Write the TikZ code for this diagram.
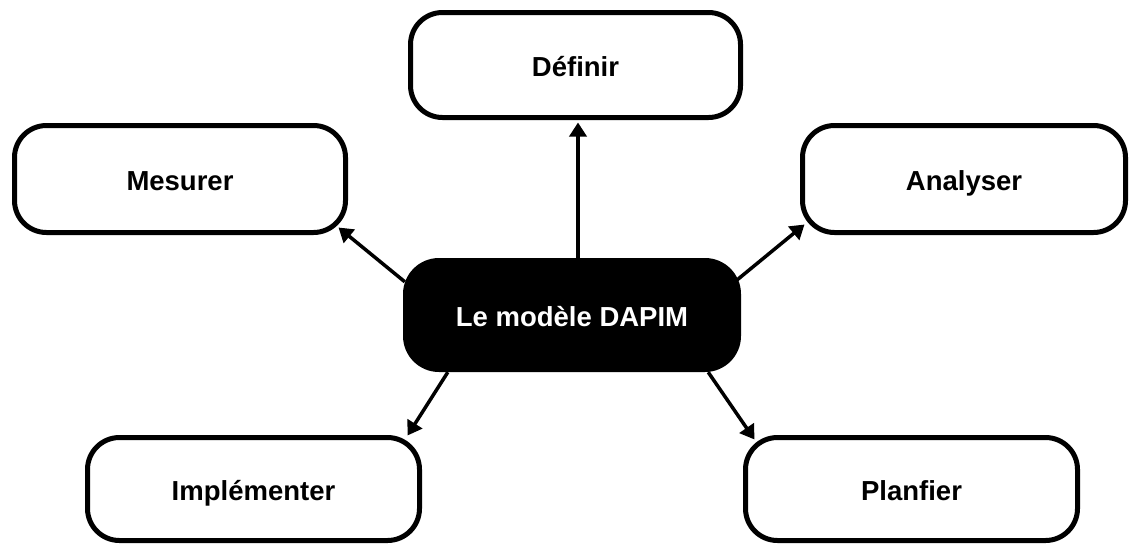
\documentclass[tikz,border=0pt]{standalone}
\usepackage{fontspec}
\setmainfont{Liberation Sans}
\usetikzlibrary{arrows.meta}

\begin{document}
\begin{tikzpicture}[x=1pt, y=-1pt,
  label font/.style={font=\fontsize{27.5}{32}\selectfont\bfseries,
    text height=22pt, text depth=0pt},
  stage/.style={draw=black, line width=5pt, fill=white, rounded corners=32pt,
    inner sep=0pt, label font},
  hub/.style={fill=black, text=white, rounded corners=36pt, inner sep=0pt,
    minimum width=338pt, minimum height=114pt, label font},
  link/.style={line width=3.5pt, -{Triangle[length=14pt,width=17pt]}}]

\useasboundingbox (0,0) rectangle (1129,544);

% central hub
\node[hub] (c) at (572,315) {Le modèle DAPIM};

% the five stages
\node[stage, minimum width=330pt, minimum height=105pt] (def) at (575.5,65) {Définir};
\node[stage, minimum width=331pt, minimum height=107pt] (mes) at (180,179) {Mesurer};
\node[stage, minimum width=323pt, minimum height=107pt] (ana) at (964,179) {Analyser};
\node[stage, minimum width=332pt, minimum height=103pt] (imp) at (253.5,489) {Implémenter};
\node[stage, minimum width=332pt, minimum height=103pt] (pla) at (911.5,489) {Planfier};

% connectors from the hub
\draw[link] ([xshift=6pt]c.north) -- ([shift={(2.5,2.5)}]def.south);
\draw[link] ([shift={(2,24)}]c.north west) -- ([shift={(-9.5,-7.5)}]mes.south east);
\draw[link] ([shift={(-4,22)}]c.north east) -- ([shift={(4.5,-10.5)}]ana.south west);
\draw[link] ([shift={(45,0)}]c.south west) -- ([shift={(-14.5,0.5)}]imp.north east);
\draw[link] ([shift={(-33,0)}]c.south east) -- ([shift={(11.5,4.5)}]pla.north west);
\end{tikzpicture}
\end{document}
